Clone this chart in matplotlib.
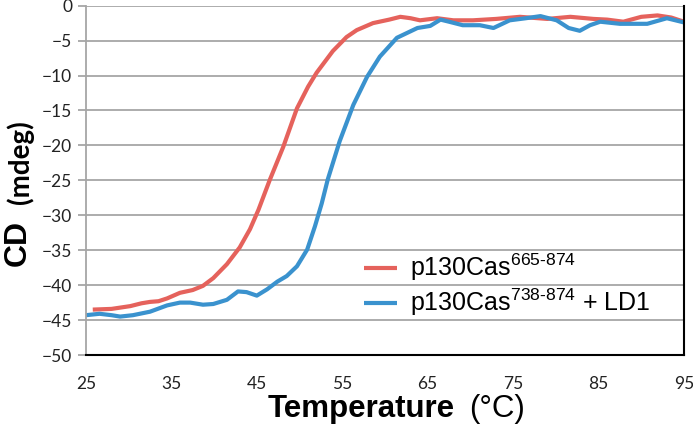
#!/usr/bin/env python3
# -*- coding: utf-8 -*-
"""
CD thermal melt curves, p130Cas constructs
"""

import matplotlib
matplotlib.use('Agg')
import matplotlib.pyplot as plt

# red curve: p130Cas 665-874
temp_red = [25.8, 28, 30.2, 31.5, 32.5, 33.5, 34.5, 36, 37.5, 38.7, 39.9, 41.5, 43, 44.2,
            45.2, 46.5, 48.1, 49.7, 51, 52, 53.9, 55.5, 56.7, 58.6, 60.5, 61.8, 63, 64.1,
            66.1, 68, 70.3, 73, 75.8, 79, 81.7, 84.4, 86, 87.9, 90, 91.9, 93.5, 95]
cd_red = [-43.5, -43.4, -43.0, -42.6, -42.4, -42.3, -41.9, -41.1, -40.7, -40.1, -39.0, -37.0,
          -34.6, -32.0, -29.2, -25.0, -20.2, -14.7, -11.6, -9.6, -6.5, -4.5, -3.5, -2.5,
          -2.0, -1.6, -1.8, -2.1, -1.8, -2.1, -2.1, -1.9, -1.6, -1.9, -1.6, -1.9, -2.0,
          -2.3, -1.6, -1.4, -1.7, -2.3]

# blue curve: p130Cas 738-874 + LD1
temp_blue = [25, 26.6, 28, 29, 30.5, 32.5, 34.5, 36, 37.2, 38.7, 39.9, 41.5, 42.8, 43.8, 45,
             46.2, 47.4, 48.5, 49.7, 50.9, 51.8, 52.6, 53.3, 54.7, 56.3, 57.9, 59.4, 61.4,
             63.8, 65.3, 66.5, 67.5, 69.1, 71.1, 72.7, 74.6, 76.5, 78.2, 80.1, 81.5, 82.8,
             84, 85.2, 87.5, 90.7, 93, 95]
cd_blue = [-44.3, -44.1, -44.3, -44.5, -44.3, -43.8, -42.9, -42.5, -42.5, -42.8, -42.7, -42.1,
           -40.9, -41.0, -41.5, -40.6, -39.5, -38.7, -37.3, -34.9, -31.6, -28.3, -24.9, -19.4,
           -14.2, -10.2, -7.3, -4.6, -3.2, -2.9, -2.0, -2.3, -2.8, -2.8, -3.2, -2.1, -1.8,
           -1.5, -2.1, -3.2, -3.6, -2.8, -2.3, -2.6, -2.6, -1.8, -2.4]

xticks = [25, 35, 45, 55, 65, 75, 85, 95]
yticks = [0, -5, -10, -15, -20, -25, -30, -35, -40, -45, -50]

RED = '#E5625C'
BLUE = '#3A92CE'
GRID = '#A6A6A6'

plt.rcParams['mathtext.fontset'] = 'custom'
plt.rcParams['mathtext.rm'] = 'Liberation Sans'
plt.rcParams['mathtext.it'] = 'Liberation Sans:italic'
plt.rcParams['mathtext.bf'] = 'Liberation Sans:bold'


def main():
    fig = plt.figure(figsize=(6.93, 4.34), dpi=100)
    ax = fig.add_axes([0.124, 0.182, 0.863, 0.805])

    ax.plot(temp_red, cd_red, color=RED, lw=3.0, solid_capstyle='butt',
            solid_joinstyle='round',
            label=r'p130Cas$^{\mathregular{665\text{-}874}}$')
    ax.plot(temp_blue, cd_blue, color=BLUE, lw=3.0, solid_capstyle='butt',
            solid_joinstyle='round',
            label=r'p130Cas$^{\mathregular{738\text{-}874}}$ + LD1')

    ax.set_xlim(25, 95)
    ax.set_ylim(-50, 0)
    ax.set_xticks(xticks)
    ax.set_yticks(yticks)
    ax.yaxis.grid(True, color=GRID, lw=1.3)
    ax.set_axisbelow(True)

    for s in ['left', 'top']:
        ax.spines[s].set_color(GRID)
        ax.spines[s].set_linewidth(1.3)
    for s in ['bottom', 'right']:
        ax.spines[s].set_color('black')
        ax.spines[s].set_linewidth(1.5)
    ax.spines['top'].set_visible(False)

    ax.tick_params(axis='y', length=6, width=1.3, color=GRID, pad=4)
    ax.tick_params(axis='x', length=0, pad=15)
    for lab in ax.get_xticklabels() + ax.get_yticklabels():
        lab.set_fontfamily('Lato')
        lab.set_fontsize(12.5)
        lab.set_color('#222222')

    ax.legend(loc='center left', bbox_to_anchor=(0.465, 0.2), frameon=False,
              prop={'family': 'Liberation Sans', 'size': 18},
              handlelength=1.3, handletextpad=0.55, labelspacing=0.15,
              borderpad=0, borderaxespad=0)

    # axis titles
    fig.text(0.386, 0.058, 'Temperature', fontfamily='Liberation Sans', fontweight='bold',
             fontsize=22.5, ha='left', va='center')
    fig.text(0.677, 0.058, '(°C)', fontfamily='Liberation Sans', fontsize=22.5,
             ha='left', va='center')
    fig.text(0.026, 0.44, 'CD', fontfamily='Liberation Sans', fontweight='bold',
             fontsize=23, rotation=90, ha='center', va='center')
    fig.text(0.029, 0.627, '(mdeg)', fontfamily='Lato', fontweight='bold',
             fontsize=20, rotation=90, ha='center', va='center')

    fig.savefig('out.png', dpi=100)


if __name__ == "__main__":
    main()
